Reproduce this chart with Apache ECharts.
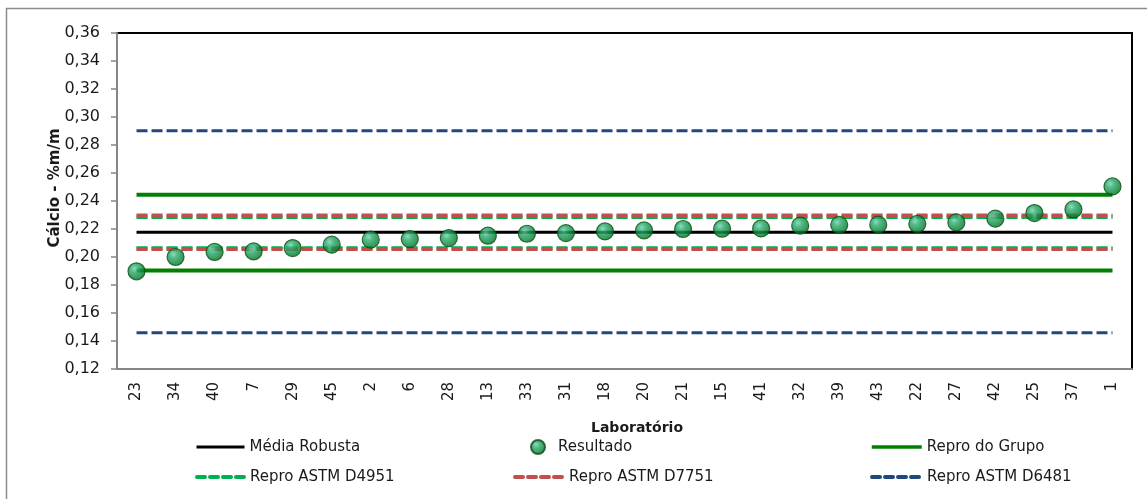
<!DOCTYPE html>
<html>
<head>
<meta charset="utf-8">
<title>Cálcio - %m/m</title>
<script src="https://cdn.jsdelivr.net/npm/echarts@6/dist/echarts.min.js"></script>
<style>
  html, body { margin: 0; padding: 0; background: #fff; }
  #chart { width: 1147px; height: 499px; }
</style>
</head>
<body>
<div id="chart"></div>
<script>
// Laboratories, ordered by reported result
const labs = ['23','34','40','7','29','45','2','6','28','13','33','31','18','20','21','15','41','32','39','43','22','27','42','25','37','1'];

// Reported calcium results (%m/m)
const results = [0.1898, 0.2000, 0.2036, 0.2040, 0.2064, 0.2088, 0.2124, 0.2128, 0.2135, 0.2152,
                 0.2166, 0.2171, 0.2183, 0.2190, 0.2200, 0.2202, 0.2204, 0.2224, 0.2229, 0.2231,
                 0.2236, 0.2247, 0.2274, 0.2314, 0.2340, 0.2504];

// Robust mean and reproducibility limits [lower, upper]
const robustMean = 0.2176;
const groupLimits = [0.1904, 0.2445];
const d4951Limits = [0.2063, 0.2286];
const d7751Limits = [0.2057, 0.2297];
const d6481Limits = [0.1459, 0.2902];

// Y-axis tick range
const yMin = 0.12, yMax = 0.36, yStep = 0.02;

const FONT = 'DejaVu Sans';
const first = labs[0], last = labs[labs.length - 1];
const hline = v => [[first, v], [last, v]];
const DASH = [11, 4];

function limitSeries(name, limits, color, width, dashed, z) {
  return limits.map(v => ({
    name: name,
    type: 'line',
    data: hline(v),
    symbol: 'none',
    z: z,
    silent: true,
    lineStyle: { color: color, width: width, type: dashed ? DASH : 'solid' },
    itemStyle: { color: color }
  }));
}

const sphere = {
  type: 'radial', x: 0.38, y: 0.35, r: 0.72,
  colorStops: [
    { offset: 0, color: '#6fd3b2' },
    { offset: 0.3, color: '#2aa86c' },
    { offset: 0.65, color: '#0b8a3c' },
    { offset: 1, color: '#056628' }
  ]
};

const series = [
  {
    name: 'Média Robusta', type: 'line', data: hline(robustMean), symbol: 'none', z: 4,
    lineStyle: { color: '#000000', width: 3 }, itemStyle: { color: '#000000' }
  },
  ...limitSeries('Repro do Grupo', groupLimits, '#008000', 4, false, 3),
  ...limitSeries('Repro ASTM D4951', d4951Limits, '#00b050', 4, true, 2),
  ...limitSeries('Repro ASTM D7751', d7751Limits, '#c0504d', 4, true, 3),
  ...limitSeries('Repro ASTM D6481', d6481Limits, '#1f497d', 3, true, 3),
  {
    name: 'Resultado', type: 'scatter', z: 10,
    data: labs.map((l, i) => [l, results[i]]),
    symbol: 'circle', symbolSize: 17,
    itemStyle: { color: sphere, borderColor: '#0b4f12', borderWidth: 1.2 }
  }
];

const legendText = { fontFamily: FONT, fontSize: 15, color: '#1a1a1a', lineHeight: 16 };

// Line entries: only the stroke is shown in the key, no marker
function lineLegend(name, left, top, w, width, dashed) {
  return {
    data: [name], left: left, top: top, padding: 0,
    itemWidth: w, itemHeight: 14, itemGap: 0,
    selectedMode: false,
    itemStyle: { opacity: 0 },
    lineStyle: { width: width, type: dashed ? [8, 5] : 'solid', cap: dashed ? 'round' : 'butt' },
    textStyle: legendText
  };
}

const option = {
  backgroundColor: '#ffffff',
  animation: false,
  grid: {
    left: 117, top: 33, right: 15, bottom: 130,
    show: true, borderColor: '#000000', borderWidth: 2, backgroundColor: 'transparent'
  },
  xAxis: {
    type: 'category',
    data: labs,
    boundaryGap: true,
    axisLine: { lineStyle: { color: '#868686', width: 2 } },
    axisTick: { show: false },
    axisLabel: { rotate: 90, margin: 13, fontFamily: FONT, fontSize: 15, color: '#1a1a1a', interval: 0 },
    splitLine: { show: false }
  },
  yAxis: {
    type: 'value',
    min: yMin, max: yMax, interval: yStep,
    axisLine: { show: true, lineStyle: { color: '#868686', width: 2 } },
    axisTick: { show: true, length: 6, lineStyle: { color: '#868686', width: 1.5 } },
    axisLabel: {
      margin: 17, fontFamily: FONT, fontSize: 16, color: '#1a1a1a',
      formatter: v => v.toFixed(2).replace('.', ',')
    },
    splitLine: { show: false }
  },
  legend: [
    lineLegend('Média Robusta', 195, 439, 48, 3, false),
    {
      data: ['Resultado'], left: 530, top: 439, padding: 0,
      itemWidth: 14, itemHeight: 14, itemGap: 0, selectedMode: false,
      textStyle: Object.assign({}, legendText, { padding: [0, 0, 0, 8] })
    },
    lineLegend('Repro do Grupo', 870, 439, 50, 3.5, false),
    lineLegend('Repro ASTM D4951', 195, 469, 48, 4, true),
    lineLegend('Repro ASTM D7751', 513, 469, 49, 4, true),
    lineLegend('Repro ASTM D6481', 870, 469, 50, 4, true)
  ],
  graphic: [
    {
      type: 'rect', silent: true, z: -1,
      shape: { x: 6.5, y: 8.5, width: 1160, height: 520 },
      style: { fill: 'none', stroke: '#8c8c8c', lineWidth: 1.5 }
    },
    {
      type: 'text', x: 55, y: 188, rotation: Math.PI / 2,
      style: {
        text: 'Cálcio - %m/m', fontFamily: FONT, fontSize: 15, fontWeight: 'bold',
        fill: '#1a1a1a', align: 'center', verticalAlign: 'middle'
      }
    },
    {
      type: 'text', x: 637, y: 428,
      style: {
        text: 'Laboratório', fontFamily: FONT, fontSize: 14, fontWeight: 'bold',
        fill: '#1a1a1a', align: 'center', verticalAlign: 'middle'
      }
    }
  ],
  series: series
};

const chart = echarts.init(document.getElementById('chart'), null, { renderer: 'canvas' });
chart.setOption(option);
</script>
</body>
</html>
